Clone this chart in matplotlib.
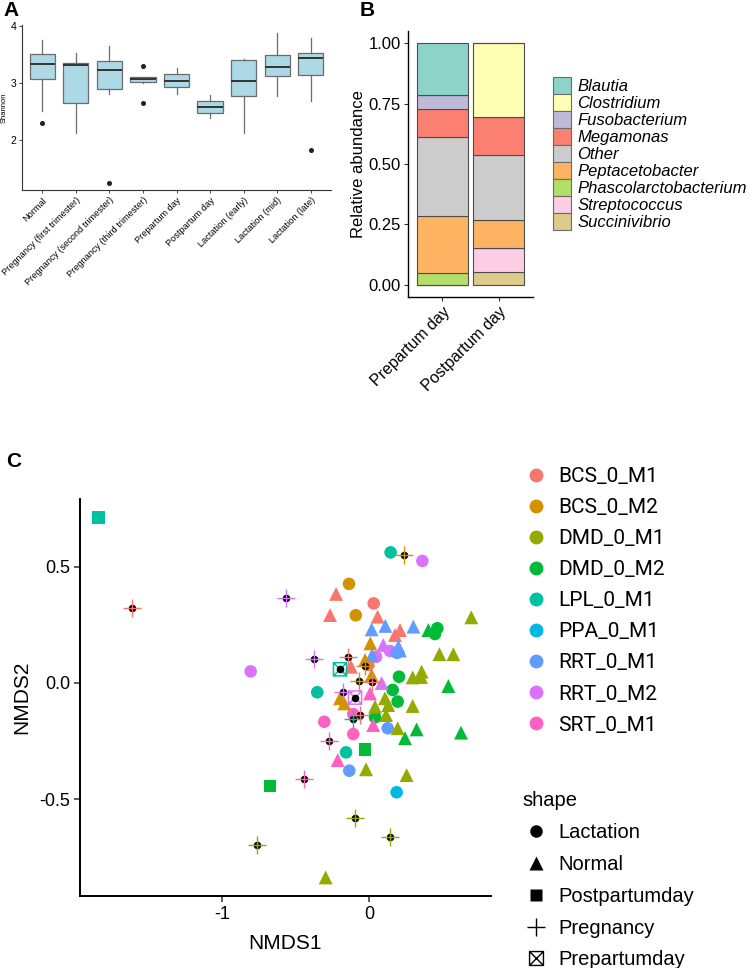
import numpy as np
import matplotlib
matplotlib.use("Agg")
import matplotlib.pyplot as plt
from matplotlib.path import Path
from matplotlib.lines import Line2D
from matplotlib.patches import Patch

plt.rcParams['font.family'] = ['Liberation Sans', 'DejaVu Sans']

# ==============================================================================
# DATA — panel A (Shannon boxplots, stats)
# ==============================================================================
stages   = ["Normal", "Pregnancy (first trimester)", "Pregnancy (second trimester)",
            "Pregnancy (third trimester)", "Prepartum day", "Postpartum day",
            "Lactation (early)", "Lactation (mid)", "Lactation (late)"]
whislo   = [2.51, 2.13, 2.81, 3.00, 2.81, 2.38, 2.13, 2.77, 2.68]
q1       = [3.07, 2.64, 2.89, 3.02, 2.92, 2.48, 2.77, 3.12, 3.13]
med      = [3.33, 3.31, 3.22, 3.06, 3.04, 2.58, 3.03, 3.27, 3.43]
q3       = [3.50, 3.35, 3.39, 3.11, 3.15, 2.68, 3.40, 3.49, 3.52]
whishi   = [3.75, 3.52, 3.65, 3.11, 3.26, 2.78, 3.42, 3.88, 3.78]
outliers = [[2.30], [], [1.26], [3.30, 2.65], [], [], [], [], [1.82]]

# ==============================================================================
# DATA — panel B (relative abundance)
# ==============================================================================
days   = ["Prepartum day", "Postpartum day"]
genera = ["Blautia", "Clostridium", "Fusobacterium", "Megamonas", "Other",
          "Peptacetobacter", "Phascolarctobacterium", "Streptococcus", "Succinivibrio"]
abund_pre  = [0.214, 0.000, 0.058, 0.116, 0.329, 0.235, 0.048, 0.000, 0.000]
abund_post = [0.000, 0.306, 0.000, 0.157, 0.268, 0.116, 0.000, 0.101, 0.052]
genus_cols = ["#8DD3C7", "#FFFFB3", "#BEBADA", "#FB8072", "#CCCCCC",
              "#FDB462", "#B3DE69", "#FCCDE5", "#DCCB8A"]

# ==============================================================================
# DATA — panel C (NMDS ordination)
# ==============================================================================
groups = ["BCS_0_M1", "BCS_0_M2", "DMD_0_M1", "DMD_0_M2", "LPL_0_M1",
          "PPA_0_M1", "RRT_0_M1", "RRT_0_M2", "SRT_0_M1"]
group_cols = ["#F8766D", "#D39200", "#93AA00", "#00BA38", "#00C19F",
              "#00B9E3", "#619CFF", "#DB72FB", "#FF61C3"]
shapes = ["Lactation", "Normal", "Postpartumday", "Pregnancy", "Prepartumday"]

lac_x = [0.147, 0.363, -0.136, -0.090, 0.032, 0.465, 0.449, 0.143, 0.048, -0.005,
         -0.805, 0.204, 0.161, 0.195, 0.041, -0.352, -0.156, -0.107, -0.304, -0.107,
         0.127, -0.134, 0.188, 0.190]
lac_y = [0.563, 0.526, 0.427, 0.292, 0.343, 0.236, 0.211, 0.138, 0.113, 0.078,
         0.050, 0.027, -0.030, -0.080, -0.148, -0.040, -0.299, -0.134, -0.167, -0.220,
         -0.195, -0.378, -0.471, 0.130]
lac_g = ["LPL_0_M1", "RRT_0_M2", "BCS_0_M2", "BCS_0_M2", "BCS_0_M1", "DMD_0_M2",
         "DMD_0_M2", "RRT_0_M2", "RRT_0_M2", "BCS_0_M1", "RRT_0_M2", "DMD_0_M2",
         "DMD_0_M2", "DMD_0_M2", "DMD_0_M2", "LPL_0_M1", "LPL_0_M1", "SRT_0_M1",
         "SRT_0_M1", "SRT_0_M1", "RRT_0_M1", "RRT_0_M1", "PPA_0_M1", "RRT_0_M1"]

nor_x = [-0.224, -0.265, 0.059, 0.211, 0.177, -0.122,
         0.018, 0.111, 0.302, 0.200, 0.020, 0.210,
         0.404, 0.540, 0.324, 0.245, 0.626,
         0.696, 0.479, 0.574, 0.297, 0.358, 0.354, 0.041, 0.131, 0.116, 0.109,
         0.297, 0.195, -0.020, 0.256, -0.295,
         0.009, -0.027, -0.197, -0.168, 0.018,
         0.097, 0.086,
         0.007, 0.029, -0.213]
nor_y = [0.384, 0.293, 0.286, 0.228, 0.207, 0.070,
         0.231, 0.246, 0.243, 0.157, 0.120, 0.140,
         0.228, -0.013, -0.200, -0.238, -0.214,
         0.283, 0.124, 0.124, 0.024, 0.049, 0.026, -0.102, -0.095, -0.138, -0.066,
         -0.099, -0.195, -0.372, -0.397, -0.838,
         0.171, 0.099, -0.066, -0.088, 0.034,
         0.164, 0.000,
         -0.045, -0.181, -0.332]
nor_g = (["BCS_0_M1"] * 6 + ["RRT_0_M1"] * 6 + ["DMD_0_M2"] * 5 +
         ["DMD_0_M1"] * 15 + ["BCS_0_M2"] * 5 + ["RRT_0_M2"] * 2 + ["SRT_0_M1"] * 3)

post_x = [-1.840, -0.673, -0.027]
post_y = [0.714, -0.443, -0.286]
post_g = ["LPL_0_M1", "DMD_0_M2", "DMD_0_M2"]

preg_x = [-1.614, -0.565, 0.236, -0.372, -0.145, -0.066, 0.018, -0.175, -0.107,
          -0.061, -0.270, -0.444, -0.764, -0.095, 0.141, -0.030]
preg_y = [0.325, 0.368, 0.552, 0.105, 0.113, 0.009, 0.006, -0.037, -0.155,
          -0.138, -0.249, -0.415, -0.700, -0.583, -0.664, 0.075]
preg_g = ["BCS_0_M1", "RRT_0_M2", "BCS_0_M2", "RRT_0_M2", "BCS_0_M1", "BCS_0_M2",
          "BCS_0_M1", "RRT_0_M2", "LPL_0_M1", "BCS_0_M1", "SRT_0_M1", "SRT_0_M1",
          "DMD_0_M1", "DMD_0_M1", "DMD_0_M1", "BCS_0_M2"]

prep_x = [-0.197, -0.095]
prep_y = [0.059, -0.063]
prep_g = ["LPL_0_M1", "RRT_0_M2"]

# ==============================================================================
# LAYOUT helpers (pixel boxes on a 750x968 canvas)
# ==============================================================================
W, H = 750, 968
def rect(l, t, r, b):
    return [l / W, 1 - b / H, (r - l) / W, (b - t) / H]

col = dict(zip(groups, group_cols))
sq_x = Path([(-1, -1), (1, -1), (1, 1), (-1, 1), (-1, -1),
             (-1, -1), (1, 1), (-1, 1), (1, -1)],
            [Path.MOVETO, Path.LINETO, Path.LINETO, Path.LINETO, Path.CLOSEPOLY,
             Path.MOVETO, Path.LINETO, Path.MOVETO, Path.LINETO])

fig = plt.figure(figsize=(W / 100, H / 100), dpi=100)

def classic(ax, lw=0.8, c="black"):
    for s in ["top", "right"]:
        ax.spines[s].set_visible(False)
    for s in ["left", "bottom"]:
        ax.spines[s].set_linewidth(lw)
        ax.spines[s].set_color(c)
    ax.tick_params(length=3, width=lw * 0.8, color="#333333")

# ==============================================================================
# PANEL A
# ==============================================================================
axA = fig.add_axes(rect(22, 25, 331, 190))
stats = [dict(whislo=a, q1=b, med=c, q3=d, whishi=e, fliers=f)
         for a, b, c, d, e, f in zip(whislo, q1, med, q3, whishi, outliers)]
axA.bxp(stats, positions=np.arange(1, len(stages) + 1), widths=0.75,
        patch_artist=True, showcaps=False,
        boxprops=dict(facecolor="#ADD8E6", edgecolor="#6b6b6b", linewidth=0.9),
        whiskerprops=dict(color="#6b6b6b", linewidth=0.9),
        medianprops=dict(color="#333333", linewidth=1.4),
        flierprops=dict(marker="o", markerfacecolor="#222222",
                        markeredgecolor="#222222", markersize=2.6))
axA.set_xlim(0.4, len(stages) + 0.6)
axA.set_ylim(1.129, 4.011)
axA.set_yticks([2, 3, 4])
axA.set_yticklabels(["2", "3", "4"], fontsize=7.5)
axA.set_xticks(np.arange(1, len(stages) + 1))
axA.set_xticklabels(stages, rotation=45, ha="right", rotation_mode="anchor",
                    fontsize=6.6)
axA.set_ylabel("Shannon", fontsize=5.5, labelpad=2)
classic(axA, lw=0.8, c="#333333")
axA.tick_params(length=2.5, pad=1.5)

# ==============================================================================
# PANEL B
# ==============================================================================
axB = fig.add_axes(rect(408, 31, 533, 297))
xpos = np.arange(len(days))
bottom = np.zeros(len(days))
for i in reversed(range(len(genera))):
    vals = np.array([abund_pre[i], abund_post[i]])
    axB.bar(xpos, vals, 0.9, bottom=bottom, color=genus_cols[i],
            edgecolor="#4d4d4d", linewidth=0.8)
    bottom += vals
axB.set_xlim(-0.6, 1.6)
axB.set_ylim(-0.05, 1.05)
axB.set_yticks([0, 0.25, 0.5, 0.75, 1.0])
axB.set_yticklabels(["0.00", "0.25", "0.50", "0.75", "1.00"], fontsize=12)
axB.set_xticks(xpos)
axB.set_xticklabels(days, rotation=45, ha="right", rotation_mode="anchor",
                    fontsize=11.5)
axB.set_ylabel("Relative abundance", fontsize=12, labelpad=2)
classic(axB, lw=1.0)
axB.tick_params(pad=2)
hB = [Patch(facecolor=c, edgecolor="#6b6b6b", linewidth=0.8) for c in genus_cols]
fig.legend(hB, genera, loc="upper left", bbox_to_anchor=(553 / W, 1 - 77 / H),
           frameon=False, prop=dict(size=12, style="italic"),
           handlelength=1.05, handleheight=1.17, labelspacing=0.0,
           handletextpad=0.4, borderpad=0, borderaxespad=0)

# ==============================================================================
# PANEL C
# ==============================================================================
axC = fig.add_axes(rect(80, 499, 491, 896))
axC.scatter(lac_x, lac_y, c=[col[g] for g in lac_g], marker="o", s=82,
            linewidths=0, zorder=2)
axC.scatter(nor_x, nor_y, c=[col[g] for g in nor_g], marker="^", s=100,
            linewidths=0, zorder=2)
axC.scatter(post_x, post_y, c=[col[g] for g in post_g], marker="s", s=80,
            linewidths=0, zorder=2)
axC.scatter(preg_x, preg_y, color="black", marker="o", s=30, linewidths=0, zorder=3)
axC.scatter(preg_x, preg_y, c=[col[g] for g in preg_g], marker="+", s=170,
            linewidths=1.0, zorder=4)
axC.scatter(prep_x, prep_y, facecolors="none", edgecolors=[col[g] for g in prep_g],
            marker=sq_x, s=90, linewidths=1.1, zorder=3)
axC.scatter(prep_x, prep_y, color="black", marker="o", s=30, linewidths=0, zorder=4)
axC.set_xlim(-1.966, 0.830)
axC.set_ylim(-0.918, 0.793)
axC.set_xticks([-1, 0])
axC.set_xticklabels(["-1", "0"], fontsize=13)
axC.set_yticks([-0.5, 0, 0.5])
axC.set_yticklabels(["-0.5", "0.0", "0.5"], fontsize=13)
axC.set_xlabel("NMDS1", fontsize=15, labelpad=8)
axC.set_ylabel("NMDS2", fontsize=15, labelpad=6)
classic(axC, lw=1.4)
axC.tick_params(length=4, width=1.1, pad=3)

hC = [Line2D([], [], ls="", marker="o", ms=10, mfc=c, mec="none") for c in group_cols]
fig.legend(hC, groups, loc="upper left", bbox_to_anchor=(522 / W, 1 - 467 / H),
           frameon=False, prop=dict(family="Roboto", size=15),
           handlelength=1.3, handletextpad=0.45, labelspacing=0.58,
           borderpad=0, borderaxespad=0)

hS = [Line2D([], [], ls="", marker="o", ms=9, mfc="black", mec="none"),
      Line2D([], [], ls="", marker="^", ms=10, mfc="black", mec="none"),
      Line2D([], [], ls="", marker="s", ms=9, mfc="black", mec="none"),
      Line2D([], [], ls="", marker="+", ms=13, mec="black", mew=1.0),
      Line2D([], [], ls="", marker=sq_x, ms=10, mfc="none", mec="black", mew=1.0)]
fig.legend(hS, shapes, loc="upper left", bbox_to_anchor=(522 / W, 1 - 791 / H),
           frameon=False, prop=dict(size=14.5), title="shape", title_fontsize=14.5,
           alignment="left", handlelength=1.35, handletextpad=0.45,
           labelspacing=0.64, borderpad=0, borderaxespad=0)

# panel tags
fig.text(3 / W, 1 - 1 / H, "A", fontsize=15, fontweight="bold", va="top")
fig.text(360 / W, 1 - 1 / H, "B", fontsize=15, fontweight="bold", va="top")
fig.text(6 / W, 1 - 452 / H, "C", fontsize=15, fontweight="bold", va="top")

fig.savefig("out.png", dpi=100)
print("Saved out.png")
